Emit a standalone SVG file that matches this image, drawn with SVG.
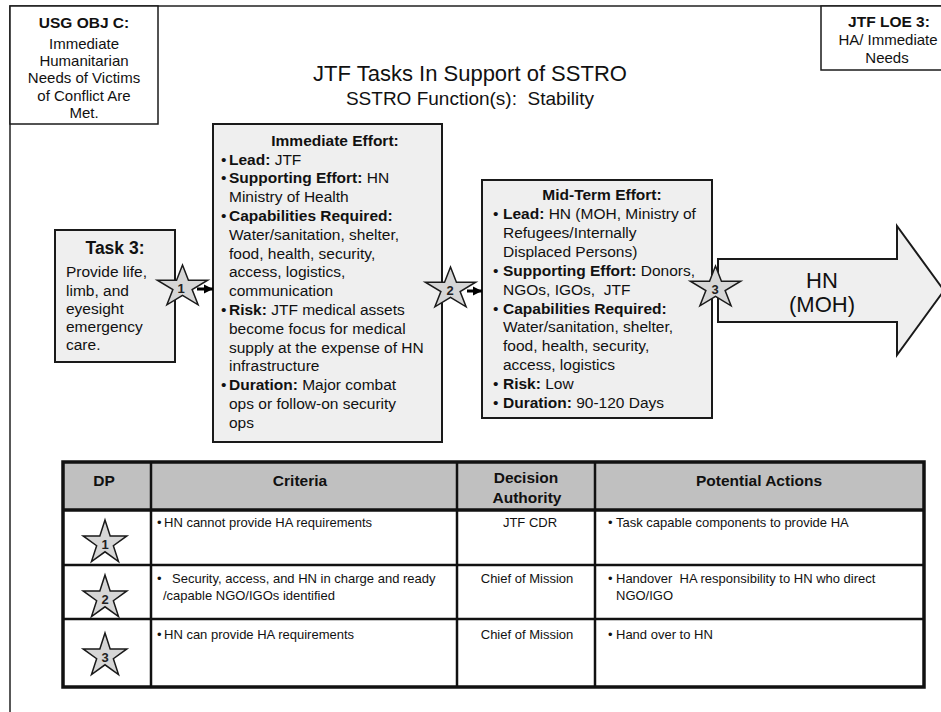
<svg xmlns="http://www.w3.org/2000/svg" width="941" height="712" viewBox="0 0 941 712">
<style>
text{font-family:"Liberation Sans",Arial,sans-serif;fill:#111;white-space:pre}
.box{fill:#efefef;stroke:#1a1a1a;stroke-width:2}
.wbox{fill:#fff;stroke:#1a1a1a;stroke-width:1.5}
.star{fill:#d6d6d6;stroke:#1a1a1a;stroke-width:1.5;stroke-linejoin:miter}
.b{font-weight:bold}
.t15{font-size:15.5px}
.t13{font-size:13px}
.th{font-size:15.5px;font-weight:bold;text-anchor:middle}
.num{font-size:13px;font-weight:bold;text-anchor:middle;fill:#222}
.c{text-anchor:middle}
.grid{stroke:#111;stroke-width:2.5;fill:none}
</style>
<defs>
<path id="fstar" d="M0,-22 L5.95,-6.8 L25.2,-6.8 L9.63,2.6 L15.58,17.8 L0,8.4 L-15.58,17.8 L-9.63,2.6 L-25.2,-6.8 L-5.95,-6.8 Z"/>
<path id="tstar" d="M0,-23 L5.16,-7.11 L21.88,-7.11 L8.36,2.71 L13.52,18.61 L0,8.79 L-13.52,18.61 L-8.36,2.71 L-21.88,-7.11 L-5.16,-7.11 Z"/>
<marker id="ah" markerWidth="10" markerHeight="10" refX="9" refY="5" orient="auto" markerUnits="userSpaceOnUse"><path d="M0,0.5 L9,5 L0,9.5 Z" fill="#000"/></marker>
</defs>

<g id="frame">
<path d="M10,712 L10,6 L941,6" fill="none" stroke="#222" stroke-width="1.5"/>
</g>

<g id="usg-obj">
<rect class="wbox" x="10" y="6" width="148" height="118"/>
<text class="b c" x="84" y="28" font-size="15.5">USG OBJ C:</text>
<text class="c" x="84" y="49" font-size="15">Immediate</text>
<text class="c" x="84" y="66" font-size="15">Humanitarian</text>
<text class="c" x="84" y="83" font-size="15">Needs of Victims</text>
<text class="c" x="84" y="101" font-size="15">of Conflict Are</text>
<text class="c" x="84" y="118" font-size="15">Met.</text>
</g>

<g id="jtf-loe">
<rect class="wbox" x="821" y="6" width="130" height="64"/>
<text class="b c" x="889" y="27" font-size="15.5">JTF LOE 3:</text>
<text class="c" x="888" y="45" font-size="15">HA/ Immediate</text>
<text class="c" x="887" y="63" font-size="15">Needs</text>
</g>

<g id="title">
<text class="c" x="470" y="81" font-size="22">JTF Tasks In Support of SSTRO</text>
<text class="c" x="470" y="105" font-size="19">SSTRO Function(s):  Stability</text>
</g>

<g id="task3">
<rect class="box" x="55" y="230" width="120" height="132"/>
<text class="b c" x="115" y="254" font-size="17.5">Task 3:</text>
<text class="t15" x="66" y="277">Provide life,</text>
<text class="t15" x="66" y="295.5">limb, and</text>
<text class="t15" x="66" y="314">eyesight</text>
<text class="t15" x="66" y="332">emergency</text>
<text class="t15" x="66" y="350">care.</text>
</g>

<g id="immediate-effort">
<rect class="box" x="213" y="124" width="229" height="318"/>
<text class="t15 b c" x="335" y="146">Immediate Effort:</text>
<text class="t15" x="221" y="164.5">•</text><text class="t15" x="229" y="164.5"><tspan class="b">Lead:</tspan> JTF</text>
<text class="t15" x="221" y="183.3">•</text><text class="t15" x="229" y="183.3"><tspan class="b">Supporting Effort:</tspan> HN</text>
<text class="t15" x="229" y="202.1">Ministry of Health</text>
<text class="t15" x="221" y="220.9">•</text><text class="t15 b" x="229" y="220.9">Capabilities Required:</text>
<text class="t15" x="229" y="239.7">Water/sanitation, shelter,</text>
<text class="t15" x="229" y="258.5">food, health, security,</text>
<text class="t15" x="229" y="277.3">access, logistics,</text>
<text class="t15" x="229" y="296.1">communication</text>
<text class="t15" x="221" y="314.9">•</text><text class="t15" x="229" y="314.9"><tspan class="b">Risk:</tspan> JTF medical assets</text>
<text class="t15" x="229" y="333.7">become focus for medical</text>
<text class="t15" x="229" y="352.5">supply at the expense of HN</text>
<text class="t15" x="229" y="371.3">infrastructure</text>
<text class="t15" x="221" y="390.1">•</text><text class="t15" x="229" y="390.1"><tspan class="b">Duration:</tspan> Major combat</text>
<text class="t15" x="229" y="408.9">ops or follow-on security</text>
<text class="t15" x="229" y="427.7">ops</text>
</g>

<g id="midterm-effort">
<rect class="box" x="482" y="180" width="230" height="238"/>
<text class="t15 b c" x="602" y="200">Mid-Term Effort:</text>
<text class="t15" x="493" y="219">•</text><text class="t15" x="503" y="219"><tspan class="b">Lead:</tspan> HN (MOH, Ministry of</text>
<text class="t15" x="503" y="237.9">Refugees/Internally</text>
<text class="t15" x="503" y="256.8">Displaced Persons)</text>
<text class="t15" x="493" y="275.7">•</text><text class="t15" x="503" y="275.7"><tspan class="b">Supporting Effort:</tspan> Donors,</text>
<text class="t15" x="503" y="294.6">NGOs, IGOs,  JTF</text>
<text class="t15" x="493" y="313.5">•</text><text class="t15 b" x="503" y="313.5">Capabilities Required:</text>
<text class="t15" x="503" y="332.4">Water/sanitation, shelter,</text>
<text class="t15" x="503" y="351.3">food, health, security,</text>
<text class="t15" x="503" y="370.2">access, logistics</text>
<text class="t15" x="493" y="389.1">•</text><text class="t15" x="503" y="389.1"><tspan class="b">Risk:</tspan> Low</text>
<text class="t15" x="493" y="408">•</text><text class="t15" x="503" y="408"><tspan class="b">Duration:</tspan> 90-120 Days</text>
</g>

<g id="hn-moh">
<path class="box" d="M718,259 L897,259 L897,226 L944,290.5 L897,355 L897,322 L718,322 Z"/>
<text class="c" x="822" y="288" font-size="22">HN</text>
<text class="c" x="822" y="312" font-size="22">(MOH)</text>
</g>

<g id="connectors">
<line x1="197" y1="289" x2="213" y2="289" stroke="#000" stroke-width="3" marker-end="url(#ah)"/>
<line x1="467" y1="291" x2="482" y2="291" stroke="#000" stroke-width="3" marker-end="url(#ah)"/>
</g>

<g id="dp1">
<use href="#fstar" class="star" x="182.5" y="287"/>
<text class="num" x="181" y="293">1</text>
</g>
<g id="dp2">
<use href="#fstar" class="star" x="450.5" y="289"/>
<text class="num" x="450" y="295">2</text>
</g>
<g id="dp3">
<use href="#fstar" class="star" x="715.5" y="288"/>
<text class="num" x="715" y="294">3</text>
</g>

<g id="dp-table">
<rect x="63" y="462" width="861" height="48" fill="#c0c0c0"/>
<rect x="63" y="510" width="861" height="177" fill="#fff"/>
<line class="grid" x1="63" y1="565" x2="924" y2="565"/>
<line class="grid" x1="63" y1="619" x2="924" y2="619"/>
<line class="grid" x1="151" y1="462" x2="151" y2="687"/>
<line class="grid" x1="457" y1="462" x2="457" y2="687"/>
<line class="grid" x1="595" y1="462" x2="595" y2="687"/>
<line x1="63" y1="510" x2="924" y2="510" stroke="#111" stroke-width="3.5"/>
<rect x="63" y="462" width="861" height="225" fill="none" stroke="#111" stroke-width="3.5"/>
<text class="th" x="104" y="486">DP</text>
<text class="th" x="300" y="486">Criteria</text>
<text class="th" x="526" y="483">Decision</text>
<text class="th" x="527" y="503">Authority</text>
<text class="th" x="759" y="486">Potential Actions</text>

<use href="#tstar" class="star" x="105" y="543"/>
<text class="num" x="105" y="549">1</text>
<use href="#tstar" class="star" x="105" y="598"/>
<text class="num" x="105" y="604">2</text>
<use href="#tstar" class="star" x="105" y="656"/>
<text class="num" x="105" y="662">3</text>

<text class="t13" x="157" y="527">•</text><text class="t13" x="164" y="527">HN cannot provide HA requirements</text>
<text class="t13" x="157" y="583">•</text><text class="t13" x="172" y="583">Security, access, and HN in charge and ready</text>
<text class="t13" x="163" y="600">/capable NGO/IGOs identified</text>
<text class="t13" x="157" y="639">•</text><text class="t13" x="164" y="639">HN can provide HA requirements</text>

<text class="t13 c" x="530" y="527">JTF CDR</text>
<text class="t13 c" x="527" y="583">Chief of Mission</text>
<text class="t13 c" x="527" y="639">Chief of Mission</text>

<text class="t13" x="608" y="527">•</text><text class="t13" x="616" y="527">Task capable components to provide HA</text>
<text class="t13" x="608" y="583">•</text><text class="t13" x="616" y="583">Handover  HA responsibility to HN who direct</text>
<text class="t13" x="616" y="600">NGO/IGO</text>
<text class="t13" x="608" y="639">•</text><text class="t13" x="616" y="639">Hand over to HN</text>
</g>
</svg>
